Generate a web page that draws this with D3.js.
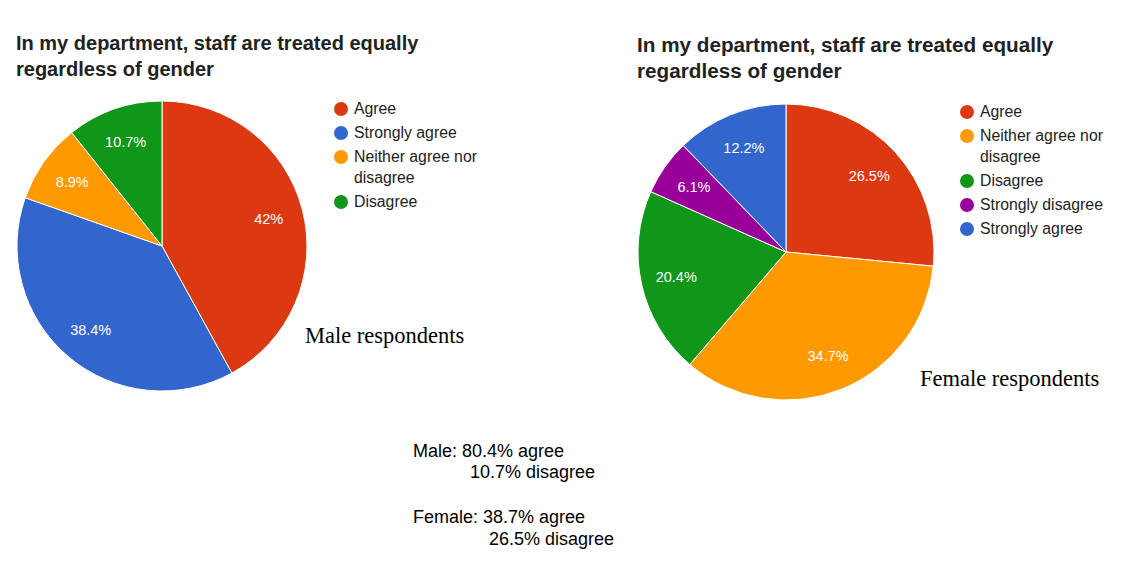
<!DOCTYPE html>
<html>
<head>
<meta charset="utf-8">
<script src="https://cdn.jsdelivr.net/npm/d3@7"></script>
<style>
  body { margin: 0; background: #fff; }
  svg { display: block; }
</style>
</head>
<body>
<script>
// survey results
var titleText = "In my department, staff are treated equally regardless of gender";

var maleCategories = ["Agree", "Strongly agree", "Neither agree nor disagree", "Disagree"];
var maleValues = [42, 38.4, 8.9, 10.7];

var femaleCategories = ["Agree", "Neither agree nor disagree", "Disagree", "Strongly disagree", "Strongly agree"];
var femaleValues = [26.5, 34.7, 20.4, 6.1, 12.2];

var summaryLines = [
  ["Male: 80.4% agree", "10.7% disagree"],
  ["Female: 38.7% agree", "26.5% disagree"]
];

var colour = d3.scaleOrdinal()
  .domain(["Agree", "Strongly agree", "Neither agree nor disagree", "Disagree", "Strongly disagree"])
  .range(["#dc3912", "#3366cc", "#ff9900", "#109618", "#990099"]);

var svg = d3.select("body").append("svg")
  .attr("width", 1121)
  .attr("height", 572);

function wrap(textSel, width) {
  textSel.each(function () {
    var text = d3.select(this),
      words = text.text().split(/\s+/),
      x = text.attr("x"),
      lineH = +text.attr("data-lh"),
      line = [],
      tspan = text.text(null).append("tspan").attr("x", x);
    words.forEach(function (w) {
      line.push(w);
      tspan.text(line.join(" "));
      if (tspan.node().getComputedTextLength() > width && line.length > 1) {
        line.pop();
        tspan.text(line.join(" "));
        line = [w];
        tspan = text.append("tspan").attr("x", x).attr("dy", lineH).text(w);
      }
    });
  });
}

function drawPie(opts) {
  var g = svg.append("g");

  // title (two lines)
  g.append("text")
    .attr("x", opts.titleX)
    .attr("y", opts.titleY)
    .attr("data-lh", 26)
    .style("font-family", "Arial, 'Liberation Sans', sans-serif")
    .style("font-weight", "bold")
    .style("font-size", opts.titleSize + "px")
    .style("fill", "#222")
    .text(titleText)
    .call(wrap, 460);

  var pie = d3.pie().sort(null).value(function (d) { return d.value; });
  var data = opts.cats.map(function (c, i) { return { name: c, value: opts.vals[i] }; });
  var arcs = pie(data);

  var arc = d3.arc().innerRadius(0).outerRadius(opts.r);
  var labelArc = d3.arc().innerRadius(opts.r * 0.76).outerRadius(opts.r * 0.76);

  var pg = g.append("g")
    .attr("transform", "translate(" + opts.cx + "," + opts.cy + ")");

  pg.selectAll("path")
    .data(arcs)
    .enter().append("path")
    .attr("d", arc)
    .style("fill", function (d) { return colour(d.data.name); })
    .style("stroke", "#fff")
    .style("stroke-width", 1);

  pg.selectAll(".lbl")
    .data(arcs)
    .enter().append("text")
    .attr("class", "lbl")
    .attr("transform", function (d) { return "translate(" + labelArc.centroid(d) + ")"; })
    .attr("dy", "0.35em")
    .style("text-anchor", "middle")
    .style("font-family", "Arial, 'Liberation Sans', sans-serif")
    .style("font-size", "14.5px")
    .style("fill", "#fff")
    .text(function (d) { return d.data.value + "%"; });

  // legend
  var y = opts.legendY;
  opts.cats.forEach(function (c) {
    g.append("circle")
      .attr("cx", opts.legendX)
      .attr("cy", y)
      .attr("r", 7)
      .style("fill", colour(c));
    var t = g.append("text")
      .attr("x", opts.legendX + 13)
      .attr("y", y + 5)
      .attr("data-lh", 21)
      .style("font-family", "Arial, 'Liberation Sans', sans-serif")
      .style("font-size", "15.8px")
      .style("fill", "#222")
      .text(c)
      .call(wrap, 132);
    y += 24 + (t.selectAll("tspan").size() - 1) * 21;
  });

  g.append("text")
    .attr("x", opts.noteX)
    .attr("y", opts.noteY)
    .style("font-family", "'Liberation Serif', 'Times New Roman', serif")
    .style("font-size", "22.5px")
    .style("fill", "#000")
    .text(opts.note);
}

drawPie({
  cats: maleCategories, vals: maleValues,
  cx: 162, cy: 246, r: 145,
  titleX: 16, titleY: 50, titleSize: 20, legendX: 341, legendY: 109,
  note: "Male respondents", noteX: 305, noteY: 343
});

drawPie({
  cats: femaleCategories, vals: femaleValues,
  cx: 786, cy: 252, r: 148,
  titleX: 637, titleY: 52, titleSize: 20.7, legendX: 967, legendY: 112,
  note: "Female respondents", noteX: 920, noteY: 386
});

// summary text underneath
var sum = svg.append("g")
  .style("font-family", "Arial, 'Liberation Sans', sans-serif")
  .style("font-size", "18px")
  .style("fill", "#000");

var sumPos = [
  [[413, 457], [470, 478]],
  [[413, 523], [489, 545]]
];
summaryLines.forEach(function (pair, i) {
  pair.forEach(function (s, j) {
    sum.append("text")
      .attr("x", sumPos[i][j][0])
      .attr("y", sumPos[i][j][1])
      .text(s);
  });
});
</script>
</body>
</html>
